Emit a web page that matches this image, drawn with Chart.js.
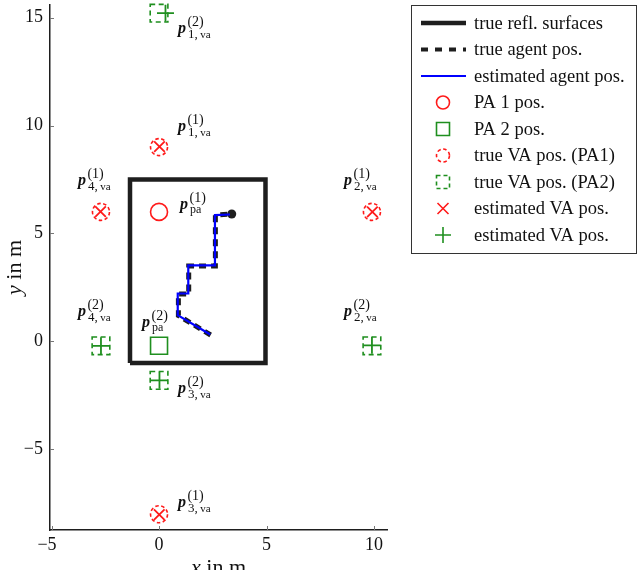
<!DOCTYPE html>
<html>
<head>
<meta charset="utf-8">
<script src="https://cdn.jsdelivr.net/npm/chart.js@4.4.0/dist/chart.umd.min.js"></script>
<style>
html, body { margin: 0; padding: 0; background: #fff; }
canvas { display: block; }
</style>
</head>
<body>
<canvas id="chart" width="640" height="570"></canvas>
<script>
// tick labels
const xTicks = [-5, 0, 5, 10];
const yTicks = [-5, 0, 5, 10, 15];

// room walls
const wallX = [-1.35, 4.95, 4.95, -1.35, -1.35];
const wallY = [-1.0, -1.0, 7.5, 7.5, -1.0];

// agent trajectory
const trueAgentX = [2.4, 0.9, 0.9, 1.38, 1.38, 2.62, 2.62, 3.38];
const trueAgentY = [0.3, 1.2, 2.2, 2.2, 3.5, 3.5, 5.85, 5.9];
const estAgentX = [2.38, 0.87, 0.87, 1.36, 1.36, 2.6, 2.6, 3.3];
const estAgentY = [0.32, 1.22, 2.22, 2.22, 3.52, 3.52, 5.85, 5.88];

// physical anchors
const pa1X = [0], pa1Y = [6];
const pa2X = [0], pa2Y = [-0.2];

// virtual anchors
const va1X = [0, 9.9, 0, -2.7], va1Y = [9, 6, -8, 6];
const va2X = [0, 9.9, 0, -2.7], va2Y = [15.2, -0.2, -1.8, -0.2];
const estVa1X = [0.02, 9.92, 0.01, -2.72], estVa1Y = [9.02, 6.0, -8.02, 6.01];
const estVa2X = [0.3, 9.9, 0.02, -2.7], estVa2Y = [15.2, -0.18, -1.8, -0.2];

// point annotations
const labelX = [0.88, 0.88, -3.77, 8.6, 0.98, -3.77, 8.6, -0.79, 0.88, 0.88];
const labelY = [14.28, 9.75, 7.25, 7.25, 6.13, 1.18, 1.18, 0.67, -2.38, -7.66];
const labelSup = ['(2)', '(1)', '(1)', '(1)', '(1)', '(2)', '(2)', '(2)', '(2)', '(1)'];
const labelSub = ['1,va', '1,va', '4,va', '2,va', 'pa', '4,va', '2,va', 'pa', '3,va', '3,va'];

const red = '#ff1a1a';
const green = '#1f8f1f';
const blue = '#0000ff';
const black = '#1e1e1e';
const serif = '"Liberation Serif", "Times New Roman", serif';

const pts = (xs, ys) => xs.map((x, i) => ({x: x, y: ys[i]}));
// negative labels get a trailing figure space so the digit sits on the tick
const fmtX = v => v < 0 ? '\u2212' + Math.abs(v) + '\u2007' : String(v);
const fmtY = v => String(v).replace('-', '\u2212');

const datasets = [
    {
        label: 'true refl. surfaces',
        data: pts(wallX, wallY),
        showLine: true, borderColor: black, borderWidth: 4.5, pointRadius: 0,
        order: 5, legend: {type: 'line', width: 4.5}
    },
    {
        label: 'true agent pos.',
        data: pts(trueAgentX, trueAgentY),
        showLine: true, borderColor: black, borderWidth: 5, borderDash: [7, 5],
        pointRadius: c => c.dataIndex === trueAgentX.length - 1 ? 4.5 : 0,
        pointBackgroundColor: black, pointBorderWidth: 0,
        order: 4, legend: {type: 'line', width: 4, dash: [7, 7]}
    },
    {
        label: 'estimated agent pos.',
        data: pts(estAgentX, estAgentY),
        showLine: true, borderColor: blue, borderWidth: 2.2, pointRadius: 0,
        order: 1, legend: {type: 'line', width: 2}
    },
    {
        label: 'PA 1 pos.',
        data: pts(pa1X, pa1Y),
        pointStyle: 'circle', pointRadius: 8.5, pointBorderColor: red,
        pointBackgroundColor: 'rgba(0,0,0,0)', pointBorderWidth: 1.6,
        order: 3, legend: {type: 'circle', color: red, size: 6.5}
    },
    {
        label: 'PA 2 pos.',
        data: pts(pa2X, pa2Y),
        pointStyle: 'rect', pointRadius: 12, pointBorderColor: green,
        pointBackgroundColor: 'rgba(0,0,0,0)', pointBorderWidth: 1.6,
        order: 3, legend: {type: 'rect', color: green, size: 6.5}
    },
    {
        label: 'true VA pos. (PA1)',
        data: pts(va1X, va1Y),
        pointStyle: 'circle', pointRadius: 8.5, pointBorderColor: red,
        pointBackgroundColor: 'rgba(0,0,0,0)', pointBorderWidth: 1.6,
        markerDash: [3.5, 2.5],
        order: 3, legend: {type: 'circle', color: red, size: 6.5, dash: [3.5, 2.5]}
    },
    {
        label: 'true VA pos. (PA2)',
        data: pts(va2X, va2Y),
        pointStyle: 'rect', pointRadius: 12.5, pointBorderColor: green,
        pointBackgroundColor: 'rgba(0,0,0,0)', pointBorderWidth: 1.6,
        markerDash: [5, 3.5],
        order: 3, legend: {type: 'rect', color: green, size: 6.5, dash: [4, 3]}
    },
    {
        label: 'estimated VA pos.',
        data: pts(estVa1X, estVa1Y),
        pointStyle: 'crossRot', pointRadius: 7.5, pointBorderColor: red, pointBorderWidth: 1.8,
        order: 2, legend: {type: 'crossRot', color: red, size: 5.5}
    },
    {
        label: 'estimated VA pos.',
        data: pts(estVa2X, estVa2Y),
        pointStyle: 'cross', pointRadius: 8.5, pointBorderColor: green, pointBorderWidth: 1.8,
        order: 2, legend: {type: 'cross', color: green, size: 8}
    }
];
datasets.forEach(d => { d.clip = false; });

function drawMarker(ctx, type, x, y, h, dash) {
    ctx.beginPath();
    if (type === 'circle') {
        ctx.arc(x, y, h, 0, Math.PI * 2);
    } else if (type === 'rect') {
        ctx.rect(x - h, y - h, 2 * h, 2 * h);
    } else if (type === 'crossRot') {
        ctx.moveTo(x - h, y - h); ctx.lineTo(x + h, y + h);
        ctx.moveTo(x - h, y + h); ctx.lineTo(x + h, y - h);
    } else if (type === 'cross') {
        ctx.moveTo(x - h, y); ctx.lineTo(x + h, y);
        ctx.moveTo(x, y - h); ctx.lineTo(x, y + h);
    }
    ctx.setLineDash(dash || []);
    ctx.stroke();
}

function drawMath(ctx, x, y, sup, sub) {
    ctx.font = 'bold italic 16px ' + serif;
    ctx.fillText('p', x, y);
    const w = ctx.measureText('p').width;
    ctx.font = '14px ' + serif;
    ctx.fillText(sup, x + w + 1.5, y - 7);
    let sx = x + w + 2;
    if (sub === 'pa') {
        ctx.font = '12px ' + serif;
        ctx.fillText('pa', sx, y + 4);
        return;
    }
    const parts = sub.split(',');
    ctx.font = '13px ' + serif;
    ctx.fillText(parts[0] + ',', sx, y + 5);
    sx += ctx.measureText(parts[0] + ',').width + 2.5;
    ctx.font = '11px ' + serif;
    ctx.fillText(parts[1], sx, y + 5);
}

const markerDash = {
    id: 'markerDash',
    beforeDatasetDraw(chart, args) {
        const d = chart.data.datasets[args.index].markerDash;
        chart.ctx.save();
        if (d) chart.ctx.setLineDash(d);
    },
    afterDatasetDraw(chart) {
        chart.ctx.restore();
    }
};

const decorations = {
    id: 'decorations',
    afterDraw(chart) {
        const ctx = chart.ctx;
        const xs = chart.scales.x, ys = chart.scales.y;
        const area = chart.chartArea;
        ctx.save();

        // inward tick marks
        ctx.strokeStyle = '#777';
        ctx.lineWidth = 1;
        ctx.beginPath();
        xTicks.forEach(v => {
            const px = Math.round(xs.getPixelForValue(v)) + 0.5;
            ctx.moveTo(px, area.bottom); ctx.lineTo(px, area.bottom - 4);
        });
        yTicks.forEach(v => {
            const py = Math.round(ys.getPixelForValue(v)) + 0.5;
            ctx.moveTo(area.left, py); ctx.lineTo(area.left + 4, py);
        });
        ctx.stroke();

        // point annotations
        ctx.fillStyle = '#111';
        ctx.textAlign = 'left';
        ctx.textBaseline = 'alphabetic';
        labelX.forEach((lx, i) => {
            drawMath(ctx, xs.getPixelForValue(lx), ys.getPixelForValue(labelY[i]), labelSup[i], labelSub[i]);
        });

        // axis titles
        const fs = 22;
        const cx = (area.left + area.right) / 2;
        ctx.font = 'italic ' + fs + 'px ' + serif;
        const wx = ctx.measureText('x').width;
        ctx.font = fs + 'px ' + serif;
        const wr = ctx.measureText(' in m').width;
        let sx = cx - (wx + wr) / 2;
        ctx.font = 'italic ' + fs + 'px ' + serif;
        ctx.fillText('x', sx, 574);
        ctx.font = fs + 'px ' + serif;
        ctx.fillText(' in m', sx + wx, 574);

        ctx.save();
        ctx.translate(21, (area.top + area.bottom) / 2);
        ctx.rotate(-Math.PI / 2);
        ctx.font = 'italic ' + fs + 'px ' + serif;
        const wy = ctx.measureText('y').width;
        sx = -(wy + wr) / 2;
        ctx.fillText('y', sx, 0);
        ctx.font = fs + 'px ' + serif;
        ctx.fillText(' in m', sx + wy, 0);
        ctx.restore();

        // legend
        const lx = 411.5, ly = 5.5, lw = 225, lh = 248;
        ctx.fillStyle = '#fff';
        ctx.fillRect(lx, ly, lw, lh);
        ctx.strokeStyle = '#333';
        ctx.lineWidth = 1;
        ctx.strokeRect(lx, ly, lw, lh);
        chart.data.datasets.forEach((d, i) => {
            const ry = 23 + i * 26.5;
            const lg = d.legend;
            ctx.save();
            if (lg.type === 'line') {
                ctx.strokeStyle = d.borderColor;
                ctx.lineWidth = lg.width;
                ctx.setLineDash(lg.dash || []);
                ctx.beginPath();
                ctx.moveTo(421, ry); ctx.lineTo(466, ry);
                ctx.stroke();
            } else {
                ctx.strokeStyle = lg.color;
                ctx.lineWidth = 1.6;
                drawMarker(ctx, lg.type, 443, ry, lg.size, lg.dash);
            }
            ctx.restore();
            ctx.fillStyle = '#111';
            ctx.font = '18.5px ' + serif;
            ctx.textBaseline = 'middle';
            ctx.fillText(d.label, 474, ry + 1);
        });
        ctx.restore();
    }
};

const ctx = document.getElementById('chart').getContext('2d');
const chart = new Chart(ctx, {
    type: 'scatter',
    data: { datasets: datasets },
    options: {
        responsive: false,
        animation: false,
        devicePixelRatio: 1,
        layout: { autoPadding: false, padding: { top: 5, right: 253, left: 0, bottom: 0 } },
        plugins: {
            legend: { display: false },
            tooltip: { enabled: false }
        },
        scales: {
            x: {
                type: 'linear',
                min: -5.07,
                max: 10.6,
                afterBuildTicks: a => { a.ticks = xTicks.map(v => ({value: v})); },
                afterFit: a => { a.height = 40; a.paddingLeft = 0; a.paddingRight = 0; },
                grid: { display: false, drawTicks: false },
                border: { color: black, width: 1.5 },
                ticks: {
                    color: '#111', padding: 4, autoSkip: false, maxRotation: 0,
                    font: { family: serif, size: 18 },
                    callback: fmtX
                }
            },
            y: {
                type: 'linear',
                min: -8.73,
                max: 15.58,
                afterBuildTicks: a => { a.ticks = yTicks.map(v => ({value: v})); },
                afterFit: a => { a.width = 50; a.paddingTop = 0; a.paddingBottom = 0; },
                grid: { display: false, drawTicks: false },
                border: { color: black, width: 1.5 },
                ticks: {
                    color: '#111', padding: 7, autoSkip: false,
                    font: { family: serif, size: 18, lineHeight: 0.3 },
                    callback: fmtY
                }
            }
        }
    },
    plugins: [markerDash, decorations]
});
</script>
</body>
</html>
